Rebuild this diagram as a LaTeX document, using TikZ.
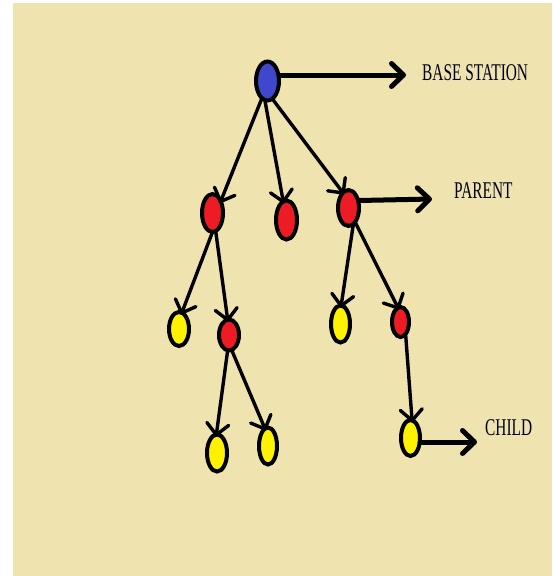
\documentclass[tikz,border=0pt]{standalone}
\usepackage{fontspec}
\usepackage{graphicx}
\setmainfont{Liberation Serif}
\usetikzlibrary{shapes.geometric,arrows.meta}
\definecolor{bgtan}{RGB}{239,228,176}
\definecolor{pblue}{RGB}{63,72,204}
\definecolor{pred}{RGB}{237,28,36}
\definecolor{pyellow}{RGB}{255,242,0}
\tikzset{
  dot/.style={ellipse,draw=black,line width=4pt,inner sep=0pt,outer sep=0pt},
  bs/.style={dot,fill=pblue},
  par/.style={dot,fill=pred},
  leaf/.style={dot,fill=pyellow},
  edge/.style={line width=3.4pt,line cap=round,-{Straight Barb[length=11pt,width=22pt,round]},shorten >=-2pt},
  lab/.style={line width=5pt,line cap=round,-{Straight Barb[length=12pt,width=23pt,round]}},
  txt/.style={anchor=base west,inner sep=0pt,font=\fontsize{24pt}{26pt}\selectfont,text=black!90!blue}
}
\begin{document}
\begin{tikzpicture}[x=1pt,y=-1pt]
\useasboundingbox (0,0) rectangle (552,576);
\fill[bgtan] (13,3) rectangle (552,576);
% nodes
\node[bs,minimum width=23pt,minimum height=39pt] (base) at (267.5,81) {};
\node[par,minimum width=21pt,minimum height=38pt] (A) at (212.5,213) {};
\node[par,minimum width=21pt,minimum height=39pt] (B) at (286.5,220) {};
\node[par,minimum width=21pt,minimum height=36pt] (C) at (348.5,208) {};
\node[leaf,minimum width=20pt,minimum height=34pt] (D) at (179,329) {};
\node[par,minimum width=20pt,minimum height=31pt] (E) at (229,335) {};
\node[leaf,minimum width=19pt,minimum height=37pt] (F) at (340.5,324) {};
\node[par,minimum width=17pt,minimum height=30pt] (G) at (400.5,322) {};
\node[leaf,minimum width=20pt,minimum height=37pt] (H) at (217,453) {};
\node[leaf,minimum width=18pt,minimum height=37pt] (I) at (268,446) {};
\node[leaf,minimum width=19pt,minimum height=36pt] (J) at (410.5,438) {};
% labels
\node[txt] (bsl) at (422,80) {\scalebox{0.64}[1]{BASE STATION}};
\node[txt] (pl) at (454,198) {\scalebox{0.64}[1]{PARENT}};
\node[txt] (cl) at (485,435) {\scalebox{0.64}[1]{CHILD}};
\coordinate (bsTip) at (406,75);
\coordinate (pTip) at (432,199);
\coordinate (cTip) at (477,442);
% tree edges
\draw[edge] (base.252) -- (A.55);
\draw[edge] (base.262) -- (B.100);
\draw[edge] (base.285) -- (C.110);
\draw[edge] (A.270) -- (D.80);
\draw[edge] (A.280) -- (E.95);
\draw[edge] (C.287) -- (F.88);
\draw[edge] (C.295) -- (G.100);
\draw[edge] (E.265) -- (H.92);
\draw[edge] (E.280) -- (I.100);
\draw[edge] (G.293) -- (J.85);
% label arrows
\draw[lab] (base.east |- bsTip) -- (bsTip);
\draw[lab] (C.east |- 0,200.5) -- (pTip);
\draw[lab] (J.east |- cTip) -- (cTip);
\end{tikzpicture}
\end{document}
